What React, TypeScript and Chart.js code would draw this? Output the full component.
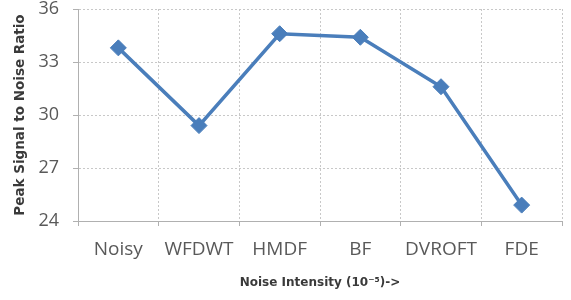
import React, { useEffect, useRef } from "react";
import { Chart, registerables } from "chart.js";

Chart.register(...registerables);

const categories = ["Noisy", "WFDWT", "HMDF", "BF", "DVROFT", "FDE"];
const psnrValues = [33.8, 29.4, 34.6, 34.4, 31.6, 24.9];
const yTicks = [24, 27, 30, 33, 36];

const FONT = "'Open Sans', Lato, 'Liberation Sans', sans-serif";
const TITLE_FONT = "'DejaVu Sans', sans-serif";
const TEXT = "#595959";
const GRID = "#c8c8c8";

export default function App() {
  const ref = useRef<HTMLCanvasElement | null>(null);
  useEffect(() => {
    if (!ref.current) return;
    const chart = new Chart(ref.current, {
      type: "line",
      data: {
        labels: categories,
        datasets: [
          {
            data: psnrValues,
            borderColor: "#4a7ebb",
            backgroundColor: "#4a7ebb",
            borderWidth: 3.5,
            pointStyle: "rectRot",
            pointRadius: 8,
            pointBorderWidth: 1,
            tension: 0,
          },
        ],
      },
      options: {
        animation: false,
        responsive: false,
        maintainAspectRatio: false,
        layout: { padding: { top: 9, right: 3, left: 0, bottom: 0 } },
        plugins: { legend: { display: false }, tooltip: { enabled: false } },
        scales: {
          x: {
            offset: true,
            grid: {
              offset: true,
              color: GRID,
              borderDash: [2, 2],
              tickLength: 5,
              tickColor: "#b0b0b0",
            },
            border: { color: "#b0b0b0", dash: [2, 2] },
            ticks: { color: TEXT, font: { family: FONT, size: 19 }, padding: 12, maxRotation: 0 },
            title: {
              display: true,
              text: "Noise Intensity (10\u207B\u2075)->",
              color: "#3a3a3a",
              font: { family: TITLE_FONT, size: 12, weight: "bold" },
              padding: { top: 0, bottom: 10 },
            },
            afterFit: (s: any) => {
              s.height = 79;
            },
          },
          y: {
            min: 24,
            max: 36,
            afterBuildTicks: (s: any) => {
              s.ticks = yTicks.map((v) => ({ value: v }));
            },
            grid: { color: GRID, borderDash: [2, 2], tickLength: 5, tickColor: "#b0b0b0" },
            border: { color: "#b0b0b0", dash: [2, 2] },
            ticks: { color: TEXT, font: { family: FONT, size: 18 }, padding: 14 },
            title: {
              display: true,
              text: "Peak Signal to Noise Ratio",
              color: "#3a3a3a",
              font: { family: TITLE_FONT, size: 13.5, weight: "bold" },
              padding: { top: 12, bottom: 0 },
            },
            afterFit: (s: any) => {
              s.width = 78;
              s.paddingTop = 0;
              s.paddingBottom = 0;
            },
          },
        },
      } as any,
    });
    return () => chart.destroy();
  }, []);
  return (
    <div style={{ position: "fixed", left: 0, top: 0, width: 571, height: 300, background: "#fff" }}>
      <canvas ref={ref} width={571} height={300} style={{ width: 571, height: 300 }} />
    </div>
  );
}
